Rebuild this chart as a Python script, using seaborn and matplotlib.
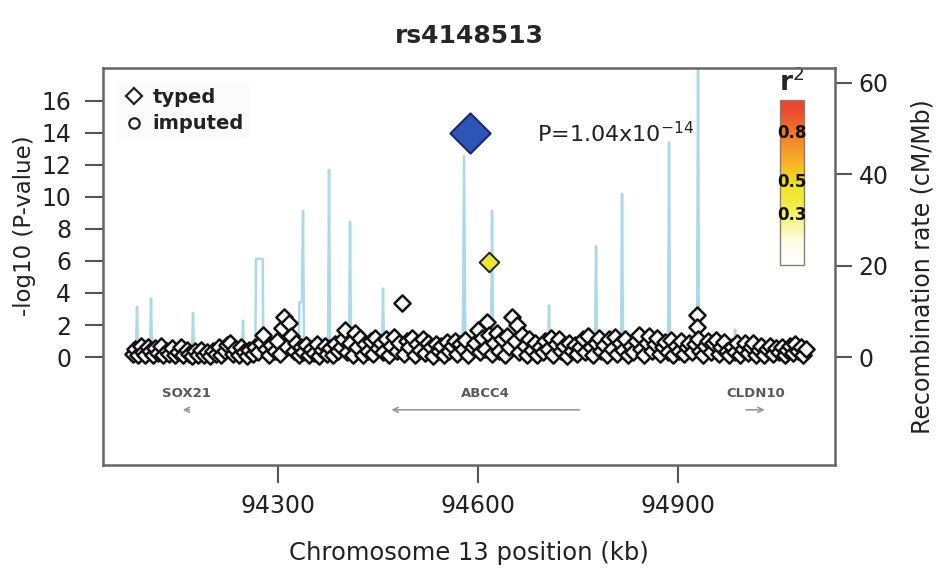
import seaborn as sns
import matplotlib.pyplot as plt
from matplotlib.colors import LinearSegmentedColormap, Normalize
from matplotlib.cm import ScalarMappable
from matplotlib.lines import Line2D

# values (positions in kb, chr13)
snp_pos = [
    94083, 94086, 94090, 94094, 94097, 94101, 94105, 94108, 94112, 94116, 94120, 94124, 94128,
    94133, 94137, 94141, 94146, 94150, 94154, 94158, 94163, 94167, 94171, 94175, 94180,
    94184, 94189, 94193, 94198, 94202, 94207, 94211, 94215, 94220, 94224, 94228, 94232, 94236,
    94241, 94245, 94249, 94253, 94257, 94262,
    94266, 94270, 94274, 94278, 94282, 94286, 94290, 94295, 94299, 94303, 94306, 94309, 94313,
    94317, 94320, 94324, 94327, 94331, 94334,
    94338, 94342, 94346, 94350, 94354, 94358, 94362, 94366, 94370, 94374, 94378, 94382, 94386, 94390,
    94394, 94397, 94401, 94404, 94408, 94412, 94416, 94419, 94423, 94427, 94431, 94435, 94439,
    94443, 94446, 94450,
    94454, 94458, 94462, 94466, 94470, 94474, 94478, 94482, 94486, 94489, 94493, 94497, 94501,
    94505, 94509, 94513, 94517, 94521, 94525, 94529, 94533, 94537, 94541, 94545, 94549, 94553, 94557,
    94561, 94565, 94569, 94573, 94577, 94581, 94585, 94592, 94596, 94600,
    94603, 94606, 94610, 94614, 94617, 94621, 94624, 94628, 94632, 94636, 94640, 94643, 94647,
    94651, 94655, 94658, 94662, 94666, 94670, 94674, 94677,
    94681, 94685, 94689, 94693, 94697, 94701, 94705, 94709, 94713, 94717, 94721, 94725, 94729,
    94733, 94737, 94741, 94745, 94749,
    94753, 94757, 94761, 94765, 94769, 94773, 94777, 94781, 94785, 94789, 94793, 94797, 94801,
    94805, 94809, 94813, 94817, 94821, 94825,
    94829, 94833, 94837, 94841, 94845, 94849, 94853, 94857, 94861, 94865, 94869, 94873, 94877,
    94881, 94885, 94889, 94893, 94897, 94901, 94905, 94909, 94913, 94917,
    94921, 94925, 94928, 94929, 94930, 94933, 94937, 94941, 94945, 94949, 94953, 94957, 94961,
    94965, 94969, 94973, 94977,
    94981, 94985, 94989, 94993, 94997, 95001, 95005, 95009, 95013, 95017, 95021, 95025, 95029,
    95034, 95038, 95042, 95047, 95051, 95056, 95060, 95064, 95068, 95072, 95076, 95080, 95084,
    95088, 95092,
]
snp_logp = [
    0.2, 0.5, 0.1, 0.7, 0.3, 0.15, 0.6, 0.35, 0.1, 0.55, 0.25, 0.7, 0.1,
    0.4, 0.2, 0.55, 0.1, 0.3, 0.6, 0.15, 0.45, 0.2, 0.05, 0.35, 0.15,
    0.45, 0.1, 0.3, 0.05, 0.4, 0.2, 0.6, 0.1, 0.35, 0.75, 0.9, 0.2, 0.5,
    0.1, 0.6, 0.3, 0.05, 0.45, 0.2,
    0.6, 0.3, 0.9, 1.4, 0.5, 0.1, 0.75, 0.35, 1.0, 0.2, 1.8, 2.5, 0.6,
    2.1, 1.3, 0.4, 0.9, 0.15, 0.6,
    0.3, 0.75, 0.1, 0.5, 0.25, 0.8, 0.05, 0.45, 0.7, 0.2, 0.55, 0.1, 0.8, 0.35,
    0.6, 1.1, 1.7, 0.3, 0.9, 0.15, 1.5, 0.6, 1.2, 0.1, 0.8, 0.4, 1.0,
    0.2, 1.2, 0.55,
    0.9, 0.3, 1.1, 0.1, 0.7, 1.25, 0.4, 0.9, 3.4, 0.2, 1.0, 0.6, 1.2,
    0.15, 0.8, 0.45, 1.1, 0.25, 0.9, 0.6, 0.05, 0.8, 0.35, 0.7, 0.15, 0.95, 0.4,
    0.7, 1.0, 0.2, 0.8, 0.5, 1.05, 0.1, 0.6, 0.9, 1.7,
    0.3, 1.2, 0.5, 2.2, 1.4, 0.2, 0.9, 1.5, 0.4, 1.1, 0.15, 1.3, 0.6,
    2.5, 1.0, 2.0, 0.3, 1.4, 0.7, 0.1, 1.1,
    0.45, 0.9, 0.15, 0.6, 0.3, 1.0, 0.5, 1.2, 0.1, 0.8, 1.1, 0.35, 0.7,
    0.05, 0.9, 0.4, 0.75, 0.2,
    0.6, 1.1, 0.3, 1.3, 0.6, 0.1, 0.9, 1.2, 0.4, 0.75, 0.15, 1.1, 0.5,
    1.25, 0.2, 0.85, 0.45, 1.15, 0.1,
    0.7, 0.3, 1.0, 1.35, 0.5, 0.1, 0.9, 1.3, 0.4, 0.8, 1.2, 0.2, 0.6,
    0.95, 0.3, 1.05, 0.1, 0.7, 0.4, 1.0, 0.2, 0.6, 0.9,
    0.3, 0.8, 2.6, 1.9, 1.1, 0.4, 0.15, 0.7, 1.0, 0.3, 0.85, 1.05, 0.2,
    0.6, 0.95, 0.4, 0.1,
    0.65, 0.3, 0.85, 0.1, 0.5, 0.9, 0.25, 0.6, 0.85, 0.15, 0.45, 0.7, 0.1,
    0.5, 0.7, 0.2, 0.55, 0.3, 0.65, 0.1, 0.45, 0.7, 0.25, 0.8, 0.4, 0.6,
    0.15, 0.5,
]

# SNP in moderate LD with the lead
ld_pos = [94617]
ld_logp = [5.94]
ld_r2 = [0.45]

lead_name = "rs4148513"
lead_pos = 94588
lead_logp = 13.98
lead_label = r"P=1.04x10$^{-14}$"

recomb_pos = [
    94075, 94087, 94088.5, 94090, 94108, 94109.5, 94111, 94171, 94172.5, 94174,
    94246, 94247.5, 94249, 94266, 94267, 94277, 94278, 94331, 94332, 94336, 94337.5, 94339,
    94375, 94376.5, 94378, 94406.5, 94408, 94409.5, 94456, 94457.5, 94459,
    94577, 94579, 94581, 94619.5, 94621, 94622.5, 94705, 94706.5, 94708,
    94775.5, 94777, 94778.5, 94814.5, 94816, 94817.5, 94885, 94886.5, 94888,
    94928.5, 94930, 94931.5, 94984, 94985.5, 94987, 95066.5, 95068, 95069.5, 95095,
]
recomb_rate = [
    0.5, 0.8, 11, 0.8, 1.0, 12.8, 1.0, 0.8, 9.6, 0.8,
    1.0, 8, 1.0, 1.2, 21.5, 21.5, 1.2, 1.5, 12, 12, 32, 1.5,
    1.0, 41, 1.0, 1.0, 29.6, 1.0, 1.0, 15, 1.0,
    1.0, 44, 1.0, 1.0, 32, 1.0, 0.8, 11.3, 0.8,
    0.8, 24.3, 0.8, 1.0, 35.7, 1.0, 1.0, 47, 1.0,
    1.0, 66, 1.0, 0.8, 6, 0.8, 0.5, 4, 0.5, 0.5,
]

gene_names = ["SOX21", "ABCC4", "CLDN10"]
gene_start = [94157, 94470, 95002]
gene_end = [94167, 94752, 95030]
gene_strand = ["-", "-", "+"]

r2_ticks = [0.3, 0.5, 0.8]

sns.set_theme(style="white")
plt.rcParams["font.family"] = ["DejaVu Sans"]

r2_cmap = LinearSegmentedColormap.from_list("r2", [
    (0.0, "#ffffff"), (0.15, "#fdfce0"), (0.35, "#f2ee4a"), (0.5, "#efe020"),
    (0.62, "#f6b324"), (0.78, "#f2802a"), (0.92, "#eb4f2c"), (1.0, "#e8432e")])

fig = plt.figure(figsize=(9.39, 5.71), dpi=100)
ax = fig.add_axes([0.1097, 0.1856, 0.7796, 0.6953])
ax2 = ax.twinx()
ax.set_zorder(ax2.get_zorder() + 1)
ax.patch.set_visible(False)

# recombination rate (right axis, drawn underneath)
sns.lineplot(x=recomb_pos, y=recomb_rate, sort=False, estimator=None,
             color="#acd8e7", lw=1.8, ax=ax2)

# SNPs
sns.scatterplot(x=snp_pos, y=snp_logp, marker="D", s=68, color="white",
                edgecolor="#111111", linewidth=1.8, ax=ax, zorder=3)
sns.scatterplot(x=ld_pos, y=ld_logp, hue=ld_r2, palette=r2_cmap, hue_norm=(0, 1),
                marker="D", s=100, edgecolor="#222222", linewidth=1.4,
                legend=False, ax=ax, zorder=4)
sns.scatterplot(x=[lead_pos], y=[lead_logp], marker="D", s=420, color="#2c55b8",
                edgecolor="#1b2a6b", linewidth=1.5, ax=ax, zorder=5)
ax.text(94688.5, lead_logp, lead_label, fontsize=16, va="center", ha="left", color="#222222")

# gene track
for name, g0, g1, strand in zip(gene_names, gene_start, gene_end, gene_strand):
    mid = (g0 + g1) / 2
    ax.text(mid, -2.3, name, ha="center", va="center", fontsize=9.5,
            color="#5a5a5a", fontweight="bold")
    tail, head = (g1, g0) if strand == "-" else (g0, g1)
    ax.annotate("", xy=(head, -3.3), xytext=(tail, -3.3),
                arrowprops=dict(arrowstyle="->", color="#9a9a9a", lw=1.2,
                                mutation_scale=9, shrinkA=0, shrinkB=0))

ax.set_xlim(94037.5, 95135.5)
ax.set_ylim(-6.75, 18.06)
ax2.set_ylim(-23.65, 63.28)
ax.set_xticks([94300, 94600, 94900])
ax.set_yticks(range(0, 17, 2))
ax2.set_yticks([0, 20, 40, 60])

ax.tick_params(axis="y", left=True, labelsize=17, length=13, width=1.5, pad=10,
               color="#555555", labelcolor="#222222")
ax.tick_params(axis="x", bottom=True, labelsize=17, length=13, width=1.5, pad=8,
               color="#555555", labelcolor="#222222")
ax2.tick_params(axis="y", right=True, labelsize=17, length=12, width=1.5, pad=5,
                color="#555555", labelcolor="#222222")
for sp in ax.spines.values():
    sp.set_color("#666666")
    sp.set_linewidth(1.8)
for sp in ax2.spines.values():
    sp.set_visible(False)

ax.set_xlabel("Chromosome 13 position (kb)", fontsize=17.5, color="#222222")
ax.xaxis.set_label_coords(0.5, -0.191)
ax.set_ylabel("-log10 (P-value)", fontsize=16.5, color="#222222")
ax.yaxis.set_label_coords(-0.092, 0.602)
ax2.set_ylabel("Recombination rate (cM/Mb)", fontsize=17, color="#222222")
ax2.yaxis.set_label_coords(1.1025, 0.5)

fig.text(0.5, 1 - 36 / 571, lead_name, ha="center", va="center",
         fontsize=18, fontweight="bold")

# legend
handles = [
    Line2D([], [], marker="D", ls="", mfc="white", mec="#222222", ms=8.5, mew=1.6),
    Line2D([], [], marker="o", ls="", mfc="white", mec="#222222", ms=7.5, mew=1.6),
]
leg = ax.legend(handles, ["typed", "imputed"], loc="upper left", bbox_to_anchor=(0.005, 0.99),
                frameon=True, facecolor="#fbfbfb", edgecolor="none", handletextpad=0.35,
                labelspacing=0.4, borderpad=0.3, handlelength=1.2,
                prop={"size": 14, "weight": "bold"})
for t in leg.get_texts():
    t.set_color("#222222")

# r2 colour bar
cax = fig.add_axes([780 / 939, 1 - 265 / 571, 24 / 939, 165 / 571])
cb = fig.colorbar(ScalarMappable(norm=Normalize(0, 1), cmap=r2_cmap), cax=cax)
cb.set_ticks([])
cb.outline.set_edgecolor("#8b7d75")
cb.outline.set_linewidth(1)
for v in r2_ticks:
    cax.text(0.5, v, str(v), transform=cax.transAxes, ha="center", va="center",
             fontsize=12, fontweight="bold", color="#111111")
cax.text(0.5, 1.02, "r$^2$", transform=cax.transAxes, ha="center", va="bottom",
         fontsize=19, fontweight="bold")

fig.savefig("out.png", dpi=100)
